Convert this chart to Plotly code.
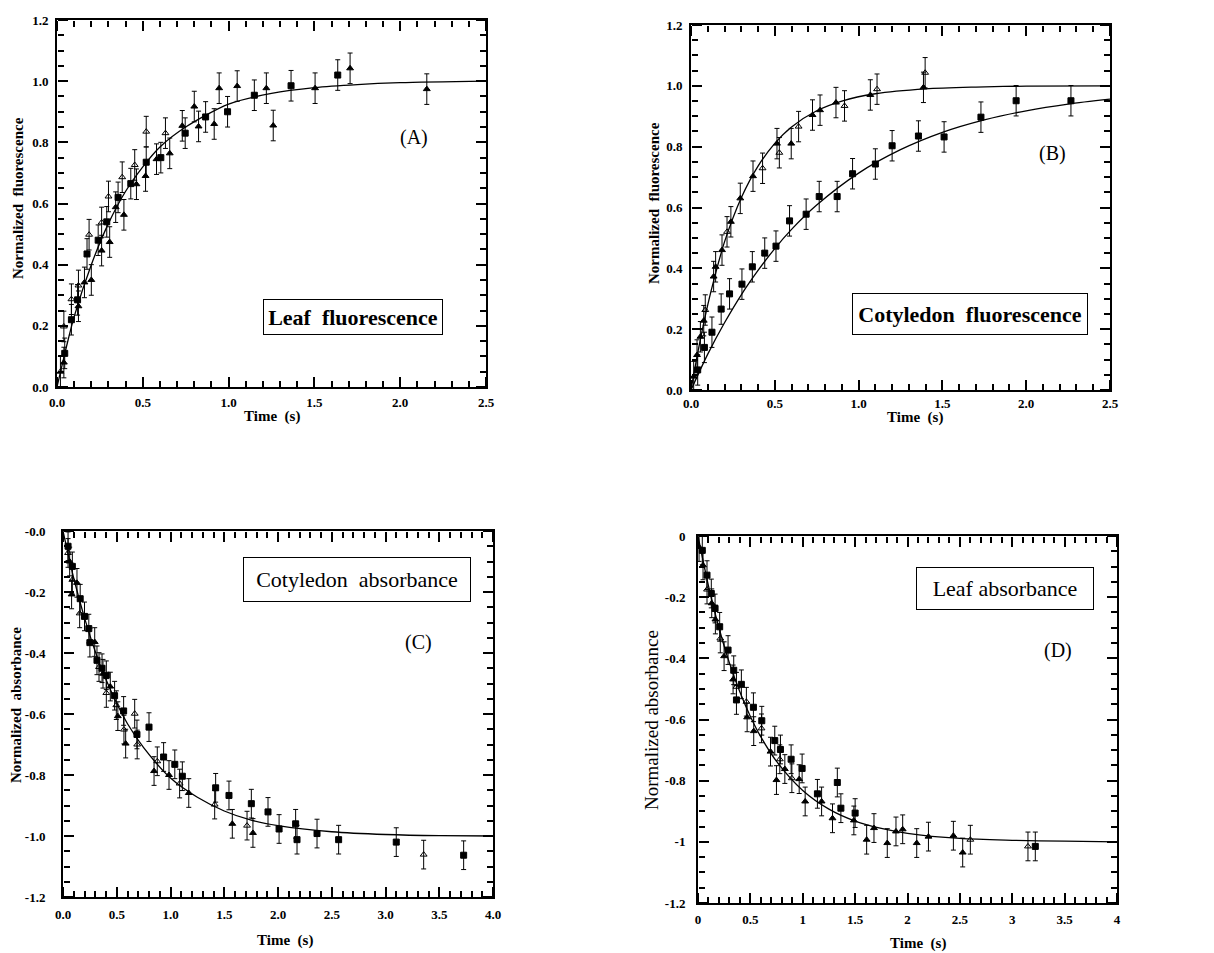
import plotly.graph_objects as go

# ---------------- Panel A: Leaf fluorescence ----------------
A_sq_t = [0.045, 0.084, 0.12, 0.175, 0.24, 0.29, 0.356, 0.43, 0.52, 0.605, 0.747, 0.866, 0.994, 1.15, 1.364, 1.636]
A_sq_v = [0.11, 0.22, 0.285, 0.435, 0.48, 0.54, 0.62, 0.665, 0.735, 0.75, 0.83, 0.883, 0.90, 0.954, 0.985, 1.02]
A_tri_t = [0.04, 0.125, 0.16, 0.20, 0.26, 0.307, 0.342, 0.39, 0.463, 0.516, 0.58, 0.657, 0.73, 0.80, 0.825,
           0.916, 0.945, 1.05, 1.22, 1.26, 1.504, 1.708, 2.155]
A_tri_v = [0.08, 0.264, 0.342, 0.35, 0.446, 0.474, 0.588, 0.563, 0.663, 0.69, 0.745, 0.764, 0.854, 0.917, 0.852,
           0.86, 0.977, 0.984, 0.977, 0.855, 0.977, 1.042, 0.974]
A_open_t = [0.02, 0.04, 0.084, 0.125, 0.187, 0.26, 0.30, 0.38, 0.453, 0.52, 0.632]
A_open_v = [0.05, 0.198, 0.287, 0.332, 0.498, 0.538, 0.623, 0.686, 0.726, 0.835, 0.83]
A_fit_t = [0, 0.05, 0.1, 0.2, 0.3, 0.4, 0.5, 0.6, 0.75, 1.0, 1.25, 1.5, 1.75, 2.0, 2.5]
A_fit_v = [0, 0.12, 0.23, 0.40, 0.535, 0.64, 0.72, 0.785, 0.85, 0.925, 0.96, 0.979, 0.989, 0.995, 1.0]

# ---------------- Panel B: Cotyledon fluorescence ----------------
B_sq_t = [0.04, 0.08, 0.125, 0.18, 0.23, 0.304, 0.366, 0.44, 0.507, 0.588, 0.687, 0.765, 0.872, 0.964,
          1.10, 1.20, 1.357, 1.51, 1.73, 1.94, 2.267]
B_sq_v = [0.066, 0.14, 0.19, 0.266, 0.316, 0.348, 0.405, 0.45, 0.473, 0.556, 0.578, 0.636, 0.636, 0.711,
          0.743, 0.803, 0.835, 0.832, 0.897, 0.951, 0.951]
B_tri_t = [0.016, 0.036, 0.056, 0.076, 0.135, 0.147, 0.185, 0.238, 0.294, 0.37, 0.513, 0.598, 0.725, 0.77,
           0.865, 1.07, 1.387]
B_tri_v = [0.044, 0.115, 0.175, 0.228, 0.373, 0.405, 0.46, 0.553, 0.63, 0.703, 0.81, 0.81, 0.904, 0.92,
           0.945, 0.97, 0.995]
B_open_t = [0.085, 0.215, 0.427, 0.527, 0.642, 0.916, 1.11, 1.397]
B_open_v = [0.263, 0.52, 0.729, 0.78, 0.866, 0.934, 0.989, 1.043]
B_fast_t = [0, 0.05, 0.1, 0.15, 0.2, 0.3, 0.4, 0.5, 0.6, 0.75, 0.9, 1.1, 1.4, 1.7, 2.0, 2.5]
B_fast_v = [0, 0.15, 0.28, 0.39, 0.487, 0.632, 0.736, 0.811, 0.865, 0.918, 0.95, 0.974, 0.99, 0.996, 0.999, 1.0]
B_slow_t = [0, 0.1, 0.2, 0.3, 0.4, 0.5, 0.6, 0.75, 1.0, 1.25, 1.5, 1.75, 2.0, 2.25, 2.5]
B_slow_v = [0, 0.118, 0.221, 0.313, 0.393, 0.465, 0.528, 0.608, 0.713, 0.79, 0.847, 0.888, 0.918, 0.94, 0.956]

# ---------------- Panel C: Cotyledon absorbance ----------------
C_sq_t = [0.047, 0.087, 0.16, 0.20, 0.24, 0.25, 0.316, 0.363, 0.403, 0.48, 0.564, 0.688, 0.80, 0.936, 1.04,
          1.11, 1.42, 1.544, 1.752, 1.907, 2.01, 2.164, 2.177, 2.363, 2.564, 3.10, 3.727]
C_sq_v = [-0.05, -0.116, -0.222, -0.28, -0.32, -0.366, -0.424, -0.45, -0.473, -0.54, -0.59, -0.667, -0.643,
          -0.741, -0.765, -0.804, -0.842, -0.867, -0.894, -0.921, -0.977, -0.96, -1.012, -0.992, -1.012, -1.02, -1.063]
C_tri_t = [0.062, 0.13, 0.08, 0.295, 0.372, 0.44, 0.51, 0.583, 0.847, 0.986, 1.17, 1.575, 1.767]
C_tri_v = [-0.10, -0.17, -0.208, -0.364, -0.468, -0.51, -0.607, -0.697, -0.787, -0.80, -0.859, -0.96, -0.99]
C_open_t = [0.047, 0.087, 0.155, 0.335, 0.403, 0.496, 0.567, 0.667, 0.69, 0.877, 1.085, 1.411, 1.712, 3.355]
C_open_v = [-0.072, -0.16, -0.27, -0.446, -0.531, -0.571, -0.651, -0.599, -0.70, -0.755, -0.828, -0.897, -0.966, -1.061]
C_fit_t = [0, 0.1, 0.2, 0.3, 0.4, 0.5, 0.6, 0.75, 1.0, 1.25, 1.5, 1.75, 2.0, 2.5, 3.0, 3.5, 4.0]
C_fit_v = [0, -0.155, -0.285, -0.395, -0.487, -0.565, -0.632, -0.71, -0.81, -0.873, -0.918, -0.948, -0.966,
           -0.986, -0.995, -0.999, -1.0]

# ---------------- Panel D: Leaf absorbance ----------------
D_sq_t = [0.041, 0.086, 0.127, 0.163, 0.207, 0.287, 0.341, 0.367, 0.414, 0.529, 0.609, 0.733, 0.787, 0.889,
          0.994, 1.14, 1.33, 1.364, 1.50, 3.22]
D_sq_v = [-0.047, -0.128, -0.188, -0.237, -0.297, -0.373, -0.439, -0.536, -0.485, -0.56, -0.604, -0.669, -0.698,
          -0.73, -0.76, -0.843, -0.806, -0.89, -0.906, -1.015]
D_tri_t = [0.01, 0.048, 0.131, 0.166, 0.249, 0.335, 0.469, 0.532, 0.692, 0.749, 0.829, 0.966, 1.023, 1.18,
           1.284, 1.488, 1.61, 1.68, 1.807, 1.89, 1.954, 2.088, 2.2, 2.438, 2.527]
D_tri_v = [-0.036, -0.096, -0.22, -0.273, -0.393, -0.469, -0.593, -0.638, -0.705, -0.798, -0.762, -0.795, -0.868,
           -0.868, -0.923, -0.93, -0.993, -0.955, -1.004, -0.966, -0.959, -1.004, -0.983, -0.98, -1.035]
D_open_t = [0.086, 0.213, 0.367, 0.462, 0.606, 0.781, 0.896, 2.60, 3.15]
D_open_v = [-0.175, -0.335, -0.493, -0.542, -0.629, -0.73, -0.792, -0.993, -1.015]
D_fit_t = [0, 0.1, 0.2, 0.3, 0.4, 0.5, 0.6, 0.75, 1.0, 1.25, 1.5, 1.75, 2.0, 2.5, 3.0, 3.5, 4.0]
D_fit_v = [0, -0.163, -0.30, -0.415, -0.51, -0.59, -0.657, -0.737, -0.832, -0.893, -0.932, -0.956, -0.972,
           -0.989, -0.995, -0.998, -1.0]

# tick label texts
fl_x_vals = [0, 0.5, 1.0, 1.5, 2.0, 2.5]
fl_x_text = ["0.0", "0.5", "1.0", "1.5", "2.0", "2.5"]
fl_y_vals = [0, 0.2, 0.4, 0.6, 0.8, 1.0, 1.2]
fl_y_text = ["0.0", "0.2", "0.4", "0.6", "0.8", "1.0", "1.2"]
ab_x_vals = [0, 0.5, 1.0, 1.5, 2.0, 2.5, 3.0, 3.5, 4.0]
C_x_text = ["0.0", "0.5", "1.0", "1.5", "2.0", "2.5", "3.0", "3.5", "4.0"]
D_x_text = ["0", "0.5", "1", "1.5", "2", "2.5", "3", "3.5", "4"]
ab_y_vals = [0, -0.2, -0.4, -0.6, -0.8, -1.0, -1.2]
C_y_text = ["-0.0", "-0.2", "-0.4", "-0.6", "-0.8", "-1.0", "-1.2"]
D_y_text = ["0", "-0.2", "-0.4", "-0.6", "-0.8", "-1", "-1.2"]

ERR_FLUOR = 0.05
ERR_ABS = 0.047

SERIF = "Liberation Serif, Times New Roman, serif"
W, H = 1214, 953
OFF = 8  # page body margin


def px_x(p):
    return (p - OFF) / W


def px_y(p):
    return 1 - (p - OFF) / H


fig = go.Figure()


def add_points(t, v, err, symbol, xa, ya):
    fig.add_trace(go.Scatter(
        x=t, y=v, mode="markers", xaxis=xa, yaxis=ya, showlegend=False, hoverinfo="x+y",
        marker=dict(symbol=symbol, size=6, color="black", line=dict(color="black", width=1)),
        error_y=dict(type="constant", value=err, color="black", thickness=1, width=2.5),
    ))


def add_fit(t, v, xa, ya):
    fig.add_trace(go.Scatter(
        x=t, y=v, mode="lines", xaxis=xa, yaxis=ya, showlegend=False,
        line=dict(color="black", width=1.3, shape="spline", smoothing=0.8),
    ))


tick_font = dict(family=SERIF, size=13, color="black", weight="bold")
layout_axes = {}


def panel(n, xdom_px, ydom_px, xr, yr, xvals, xtext, yvals, ytext, fit_t, fit_v, xstand, ystand):
    """Main axes carry labels and frame; four overlay axes draw inward-pointing ticks."""
    xd = [px_x(xdom_px[0]), px_x(xdom_px[1])]
    yd = [px_y(ydom_px[1]), px_y(ydom_px[0])]
    xk = "xaxis" if n == 1 else f"xaxis{n}"
    yk = "yaxis" if n == 1 else f"yaxis{n}"
    xref = "x" if n == 1 else f"x{n}"
    yref = "y" if n == 1 else f"y{n}"
    layout_axes[xk] = dict(domain=xd, range=xr, anchor=yref, automargin=False, showline=True, linewidth=2,
                           linecolor="black", mirror=True, ticks="", tickmode="array", tickvals=xvals,
                           ticktext=xtext, tickfont=tick_font, showgrid=False, zeroline=False,
                           ticklabelstandoff=xstand)
    layout_axes[yk] = dict(domain=yd, range=yr, anchor=xref, automargin=False, showline=True, linewidth=2,
                           linecolor="black", mirror=True, ticks="", tickmode="array", tickvals=yvals,
                           ticktext=ytext, tickfont=tick_font, showgrid=False, zeroline=False,
                           ticklabelstandoff=ystand)
    for j, (pos, side) in enumerate([(yd[0], "top"), (yd[1], "bottom")]):
        idx = 4 + 4 * (n - 1) + j + 1
        layout_axes[f"xaxis{idx}"] = dict(
            overlaying=xref, anchor="free", position=pos, side=side, range=xr, automargin=False,
            showline=False, showticklabels=False, showgrid=False, zeroline=False,
            ticks="outside", ticklen=10, tickwidth=2, tickcolor="black", tickmode="array", tickvals=xvals,
            minor=dict(dtick=0.1, tick0=0, ticks="outside", ticklen=6, tickwidth=1.5, tickcolor="black",
                       showgrid=False))
        fig.add_trace(go.Scatter(x=fit_t, y=fit_v, xaxis=f"x{idx}", yaxis=yref, mode="lines",
                                 line=dict(width=0), opacity=0, hoverinfo="skip", showlegend=False))
    for j, (pos, side) in enumerate([(xd[0], "right"), (xd[1], "left")]):
        idx = 4 + 4 * (n - 1) + j + 3
        layout_axes[f"yaxis{idx}"] = dict(
            overlaying=yref, anchor="free", position=pos, side=side, range=yr, automargin=False,
            showline=False, showticklabels=False, showgrid=False, zeroline=False,
            ticks="outside", ticklen=10, tickwidth=2, tickcolor="black", tickmode="array", tickvals=yvals,
            minor=dict(dtick=0.05, tick0=0, ticks="outside", ticklen=6, tickwidth=1.5, tickcolor="black",
                       showgrid=False))
        fig.add_trace(go.Scatter(x=fit_t, y=fit_v, xaxis=xref, yaxis=f"y{idx}", mode="lines",
                                 line=dict(width=0), opacity=0, hoverinfo="skip", showlegend=False))


panel(1, (57, 486), (20, 387), [0, 2.5], [0, 1.2], fl_x_vals, fl_x_text, fl_y_vals, fl_y_text,
      A_fit_t, A_fit_v, 2, 4)
panel(2, (691, 1110), (25, 390), [0, 2.5], [0, 1.2], fl_x_vals, fl_x_text, fl_y_vals, fl_y_text,
      B_fast_t, B_fast_v, 0, 4)
panel(3, (63, 493), (531, 897), [0, 4], [-1.2, 0], ab_x_vals, C_x_text, ab_y_vals, C_y_text,
      C_fit_t, C_fit_v, 4, 13)
panel(4, (698, 1117), (536, 903), [0, 4], [-1.2, 0], ab_x_vals, D_x_text, ab_y_vals, D_y_text,
      D_fit_t, D_fit_v, 3, 8)

add_fit(A_fit_t, A_fit_v, "x", "y")
add_points(A_sq_t, A_sq_v, ERR_FLUOR, "square", "x", "y")
add_points(A_tri_t, A_tri_v, ERR_FLUOR, "triangle-up", "x", "y")
add_points(A_open_t, A_open_v, ERR_FLUOR, "triangle-up-open", "x", "y")
add_fit(B_fast_t, B_fast_v, "x2", "y2")
add_fit(B_slow_t, B_slow_v, "x2", "y2")
add_points(B_sq_t, B_sq_v, ERR_FLUOR, "square", "x2", "y2")
add_points(B_tri_t, B_tri_v, ERR_FLUOR, "triangle-up", "x2", "y2")
add_points(B_open_t, B_open_v, ERR_FLUOR, "triangle-up-open", "x2", "y2")
add_fit(C_fit_t, C_fit_v, "x3", "y3")
add_points(C_sq_t, C_sq_v, ERR_ABS, "square", "x3", "y3")
add_points(C_tri_t, C_tri_v, ERR_ABS, "triangle-up", "x3", "y3")
add_points(C_open_t, C_open_v, ERR_ABS, "triangle-up-open", "x3", "y3")
add_fit(D_fit_t, D_fit_v, "x4", "y4")
add_points(D_sq_t, D_sq_v, ERR_ABS, "square", "x4", "y4")
add_points(D_tri_t, D_tri_v, ERR_ABS, "triangle-up", "x4", "y4")
add_points(D_open_t, D_open_v, ERR_ABS, "triangle-up-open", "x4", "y4")

fig.update_layout(
    template="none",
    width=W, height=H, margin=dict(l=0, r=0, t=0, b=0, autoexpand=False),
    paper_bgcolor="white", plot_bgcolor="rgba(0,0,0,0)", showlegend=False,
    **layout_axes,
)

annos = []


def label(text, xp, yp, size, bold=False, angle=0, **kw):
    annos.append(dict(text=text, x=px_x(xp), y=px_y(yp), xref="paper", yref="paper", showarrow=False,
                      textangle=angle, xanchor="center", yanchor="middle",
                      font=dict(family=SERIF, size=size, color="black", weight="bold" if bold else "normal"), **kw))


label("Normalized  fluorescence", 18, 198, 15, bold=True, angle=-90)
label("Time  (s)", 272, 416, 15, bold=True)
label("Normalized  fluorescence", 654, 203, 15, bold=True, angle=-90)
label("Time  (s)", 915, 418, 15, bold=True)
label("Normalized  absorbance", 16, 705, 15, bold=True, angle=-90)
label("Time  (s)", 285, 940, 15, bold=True)
label("Normalized absorbance", 651, 720, 19, angle=-90)
label("Time  (s)", 918, 943, 15, bold=True)

label("(A)", 414, 138, 20)
label("(B)", 1052, 153, 20)
label("(C)", 418, 642, 20)
label("(D)", 1058, 650, 20)

box = dict(bordercolor="black", borderwidth=1, bgcolor="white", borderpad=2)
label("Leaf  fluorescence", (263 + 443) / 2, (299 + 335) / 2, 22, bold=True, width=174, height=30, **box)
label("Cotyledon  fluorescence", (852 + 1088) / 2, (293 + 335) / 2, 22, bold=True, width=230, height=36, **box)
label("Cotyledon  absorbance", (243 + 471) / 2, (557 + 602) / 2, 22, width=222, height=39, **box)
label("Leaf absorbance", (916 + 1094) / 2, (567 + 610) / 2, 22, width=172, height=37, **box)

fig.update_layout(annotations=annos)

fig.write_html("out.html")
